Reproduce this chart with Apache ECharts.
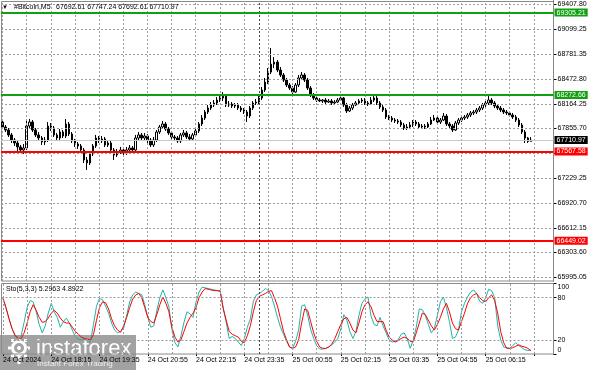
<!DOCTYPE html>
<html><head><meta charset="utf-8">
<script src="https://cdn.jsdelivr.net/npm/echarts@6/dist/echarts.min.js"></script>
<style>html,body{margin:0;padding:0;background:#fff}#c{width:591px;height:370px}</style>
</head><body><div id="c"></div>
<script>
// ---------- data ----------
const symbolName = '#Bitcoin,M5';
const headerValues = '67692.61 67747.24 67692.61 67710.97';
const stochTitle = 'Sto(5,3,3) 5.2963 4.8922';
const priceTicks = [69407.80, 69099.25, 68781.35, 68472.80, 68164.25, 67855.70, 67547.15, 67229.25, 66920.70, 66612.15, 66303.60, 65995.05];
const greenLevels = [69305.21, 68272.66];
const redLevels = [67567.58, 66449.02];
const lastPrice = 67710.97;
const timeLabels = ['24 Oct 2024', '24 Oct 18:15', '24 Oct 19:35', '24 Oct 20:55', '24 Oct 22:15', '24 Oct 23:35', '25 Oct 00:55', '25 Oct 02:15', '25 Oct 03:35', '25 Oct 04:55', '25 Oct 06:15'];
const stochTicks = [0, 20, 80, 100];
const stochLevels = [20, 80];
const daySeparatorBar = 85;
// [open, close, low, high]
const ohlc = [
[67936,67874,67849,67961],[67874,67836,67811,67899],[67836,67774,67749,67861],[67774,67711,67674,67799],[67711,67674,67636,67736],
[67674,67624,67573,67699],[67624,67586,67549,67649],[67586,67611,67536,67661],[67611,67886,67586,67961],[67886,67936,67861,67974],
[67936,67836,67811,67961],[67836,67774,67749,67861],[67774,67736,67699,67811],[67736,67686,67649,67761],[67686,67711,67649,67749],
[67711,67886,67686,67936],[67886,67861,67824,67924],[67861,67774,67749,67886],[67774,67736,67699,67799],[67736,67811,67711,67849],
[67811,67761,67736,67836],[67761,67911,67736,67974],[67911,67786,67761,67936],[67786,67699,67674,67811],[67699,67661,67624,67724],
[67661,67636,67599,67686],[67636,67586,67561,67661],[67586,67461,67423,67611],[67461,67423,67336,67499],[67423,67536,67398,67573],
[67536,67636,67511,67661],[67636,67736,67611,67774],[67736,67699,67674,67761],[67699,67724,67674,67761],[67724,67649,67624,67749],
[67649,67674,67624,67711],[67674,67586,67561,67699],[67586,67524,67461,67611],[67524,67561,67499,67599],[67561,67586,67536,67624],
[67586,67549,67511,67611],[67549,67586,67524,67624],[67586,67611,67561,67649],[67611,67586,67561,67636],[67586,67736,67573,67774],
[67736,67774,67711,67811],[67774,67736,67711,67799],[67736,67761,67699,67799],[67761,67711,67674,67786],[67711,67649,67624,67736],
[67649,67711,67624,67749],[67711,67811,67686,67836],[67811,67874,67786,67899],[67874,67911,67849,67949],[67911,67849,67824,67936],
[67849,67799,67774,67874],[67799,67749,67724,67824],[67749,67736,67699,67774],[67736,67699,67674,67761],[67699,67774,67674,67799],
[67774,67799,67749,67836],[67799,67749,67724,67824],[67749,67724,67699,67786],[67724,67774,67699,67799],[67774,67824,67749,67849],
[67824,67911,67799,67936],[67911,67986,67886,68024],[67986,68061,67961,68086],[68061,68111,68036,68149],[68111,68149,68086,68186],
[68149,68174,68124,68211],[68174,68211,68149,68249],[68211,68236,68186,68274],[68236,68261,68199,68312],[68261,68149,68124,68286],
[68149,68161,68124,68199],[68161,68136,68111,68186],[68136,68149,68111,68174],[68149,68111,68086,68174],[68111,68086,68061,68136],
[68086,68061,68036,68111],[68061,68011,67936,68086],[68011,68111,67986,68136],[68111,68174,68086,68199],[68174,68186,68149,68224],
[68186,68236,68161,68261],[68236,68336,68211,68374],[68336,68436,68311,68487],[68436,68561,68411,68611],[68561,68661,68536,68862],
[68661,68686,68611,68749],[68686,68586,68561,68711],[68586,68524,68499,68624],[68524,68461,68436,68549],[68461,68399,68374,68487],
[68399,68361,68336,68424],[68361,68311,68286,68386],[68311,68399,68299,68424],[68399,68487,68374,68524],[68487,68524,68461,68561],
[68524,68461,68436,68549],[68461,68361,68336,68487],[68361,68274,68249,68386],[68274,68236,68211,68299],[68236,68211,68186,68261],
[68211,68199,68186,68236],[68199,68211,68174,68224],[68211,68186,68161,68236],[68186,68199,68174,68224],[68199,68174,68149,68224],
[68174,68186,68161,68211],[68186,68211,68174,68236],[68211,68236,68199,68261],[68236,68149,68124,68249],[68149,68074,68049,68174],
[68074,68111,68061,68136],[68111,68149,68086,68174],[68149,68174,68136,68199],[68174,68199,68149,68224],[68199,68211,68174,68236],
[68211,68174,68149,68236],[68174,68161,68136,68199],[68161,68211,68149,68249],[68211,68236,68186,68261],[68236,68174,68149,68261],
[68174,68124,68099,68199],[68124,68086,68061,68149],[68086,67999,67974,68111],[67999,67986,67961,68024],[67986,67961,67936,68011],
[67961,67949,67924,67986],[67949,67936,67911,67974],[67936,67899,67874,67961],[67899,67861,67836,67924],[67861,67874,67836,67911],
[67874,67899,67849,67936],[67899,67936,67874,67961],[67936,67911,67886,67961],[67911,67874,67849,67936],[67874,67886,67849,67911],
[67886,67874,67849,67911],[67874,67911,67861,67936],[67911,67961,67899,67999],[67961,67986,67949,68024],[67986,67936,67911,68011],
[67936,67961,67911,67986],[67961,68011,67949,68049],[68011,67911,67886,68036],[67911,67886,67861,67936],[67886,67836,67811,67911],
[67836,67924,67824,67949],[67924,67961,67899,67986],[67961,67986,67936,68011],[67986,67999,67961,68024],[67999,68024,67974,68049],
[68024,68049,67999,68074],[68049,68061,68024,68086],[68061,68086,68036,68111],[68086,68111,68061,68136],[68111,68149,68086,68174],
[68149,68174,68124,68199],[68174,68211,68149,68261],[68211,68174,68149,68236],[68174,68136,68111,68199],[68136,68111,68086,68161],
[68111,68086,68061,68136],[68086,68061,68036,68111],[68061,68049,68024,68086],[68049,68024,67999,68074],[68024,67999,67974,68049],
[67999,67961,67936,68024],[67961,67899,67874,67986],[67899,67811,67786,67924],[67811,67736,67674,67836],[67736,67693,67674,67749],
[67692.61,67710.97,67692.61,67747.24]
];
const stochMain = [
79,65,50,36,27,20,26,45,66,76, 74,60,42,30,40,58,72,60,52,38,
46,51,44,34,24,21,20,21,19,17, 42,68,79,77,68,58,44,34,30,32,
37,55,74,84,88,86,84,70,52,38, 40,62,80,91,80,67,35,16,10,26,
45,60,57,52,74,88,95,94,93,92, 91,90,90,65,45,22,25,22,17,12,
22,38,50,75,84,86,89,93,90,82, 68,52,38,28,18,10,8,18,34,68,
70,55,35,22,12,7,7,8,10,13, 17,22,36,56,48,32,22,32,55,72,
78,81,54,42,40,52,40,30,20,17, 18,20,28,30,22,8,20,38,64,63,
55,42,30,36,55,74,81,66,46,22, 24,34,60,72,81,88,91,86,75,72,
80,92,90,80,40,20,10,9,8,12, 16,12,9,6,5,5.2963
];
const stochSignal = [
79,66,50,36,26,23,22,30,44,60, 70,62,52,45,46,51,58,62,58,51,
46,44,44,38,32,28,24,22,21,20, 28,48,66,74,73,64,50,40,34,31,
40,52,66,78,84,86,80,66,52,46, 44,56,70,81,72,60,38,24,17,20,
32,44,52,58,66,80,88,93,92,91, 90,90,89,65,48,32,28,26,24,18,
16,26,40,60,76,82,84,86,89,90, 80,68,50,32,20,10,8,10,20,44,
64,62,46,30,18,10,8,8,10,14, 22,32,42,50,52,44,34,30,44,60,
70,74,67,55,46,46,46,34,24,20, 17,19,22,24,22,18,17,30,44,58,
56,48,40,34,42,52,64,72,60,44, 36,34,46,58,72,80,84,86,80,76,
74,80,84,76,58,32,16,8,8,9, 11,13,11,10,8,4.8922
];

// ---------- chart ----------
const FONT = '"Liberation Sans", Arial, sans-serif';
const N = 183; // bar slots incl. right shift
const LABEL_EVERY = 16, GRID_EVERY = 8;
const cats = Array.from({length: N}, (_, i) => String(i));
const gridStyle = {color: '#9c9c9c', type: [2, 2], width: 1};
const vGrid = cats.filter((c, i) => i % GRID_EVERY === 0).map(c => ({xAxis: c, lineStyle: gridStyle}));
const sepLine = {xAxis: String(daySeparatorBar), lineStyle: {color: '#444', type: [2, 2], width: 1}};

function levelItem(v, color, width, bg) {
  return {yAxis: v, lineStyle: {color: color, width: width, type: 'solid'},
    label: {show: true, position: 'end', distance: 1, formatter: () => v.toFixed(2),
      color: '#fff', backgroundColor: bg, padding: [1, 2, 0, 2], fontSize: 7, fontFamily: FONT}};
}

function xAxisDef(gi, showLabels) {
  return {type: 'category', gridIndex: gi, data: cats, boundaryGap: true,
    axisLine: {show: false},
    axisTick: {show: showLabels, alignWithLabel: true, interval: i => i % LABEL_EVERY === 0, length: 2, lineStyle: {color: '#000'}},
    axisLabel: {show: showLabels, interval: i => i % LABEL_EVERY === 0, formatter: (v, i) => timeLabels[i / LABEL_EVERY] || '',
      align: 'left', fontSize: 7, fontFamily: FONT, color: '#000', margin: 3},
    splitLine: {show: false}};
}

const chart = echarts.init(document.getElementById('c'), null, {renderer: 'canvas'});
chart.setOption({
  animation: false,
  backgroundColor: '#fff',
  grid: [
    {left: 1, top: 1, width: 552.5, height: 280, show: false},
    {left: 1, top: 283.6, width: 552.5, height: 70.4, show: false}
  ],
  xAxis: [xAxisDef(0, false), xAxisDef(1, true)],
  yAxis: [
    {type: 'value', gridIndex: 0, position: 'right', min: 65947, max: 69450, scale: true,
      axisLine: {show: true, lineStyle: {color: '#000'}},
      axisTick: {show: true, customValues: priceTicks, length: 3, lineStyle: {color: '#000'}},
      axisLabel: {customValues: priceTicks, formatter: v => v.toFixed(2), fontSize: 7, fontFamily: FONT, color: '#000', margin: 4},
      splitLine: {show: false}},
    {type: 'value', gridIndex: 1, position: 'right', min: 0, max: 100,
      axisLine: {show: true, lineStyle: {color: '#000'}},
      axisTick: {show: true, customValues: stochTicks, length: 3, lineStyle: {color: '#000'}},
      axisLabel: {customValues: stochTicks, fontSize: 7, fontFamily: FONT, color: '#000', margin: 4,
        verticalAlignMinLabel: 'bottom', verticalAlignMaxLabel: 'top'},
      splitLine: {show: false}}
  ],
  series: [
    {type: 'candlestick', xAxisIndex: 0, yAxisIndex: 0, data: ohlc, z: 3, barWidth: 2,
      itemStyle: {color: '#fff', color0: '#000', borderColor: '#000', borderColor0: '#000', borderWidth: 1},
      markLine: {silent: true, symbol: 'none', animation: false, label: {show: false},
        data: priceTicks.map(v => ({yAxis: v, lineStyle: gridStyle})).concat(vGrid)
          .concat([sepLine, levelItem(lastPrice, '#c8c8c8', 1, '#000')])
          .concat(greenLevels.map(v => levelItem(v, '#12a012', 2, '#12a012')))
          .concat(redLevels.map(v => levelItem(v, '#ff0000', 2, '#ff0000')))}},
    {type: 'line', name: 'Main', xAxisIndex: 1, yAxisIndex: 1, data: stochMain, symbol: 'none', z: 3,
      lineStyle: {color: '#20b2aa', width: 1},
      markLine: {silent: true, symbol: 'none', animation: false, label: {show: false},
        data: stochLevels.map(v => ({yAxis: v, lineStyle: gridStyle})).concat(vGrid).concat([sepLine])}},
    {type: 'line', name: 'Signal', xAxisIndex: 1, yAxisIndex: 1, data: stochSignal, symbol: 'none', z: 4,
      lineStyle: {color: '#ff0000', width: 1}}
  ],
  graphic: [
    {type: 'rect', z: 1, silent: true, shape: {x: 1.5, y: 1.5, width: 552, height: 279.5}, style: {fill: null, stroke: '#8a8a8a', lineWidth: 1}},
    {type: 'rect', z: 1, silent: true, shape: {x: 1.5, y: 283.5, width: 552, height: 70.5}, style: {fill: null, stroke: '#8a8a8a', lineWidth: 1}},
    {type: 'text', x: 2, y: 7, z: 10, style: {text: '▼', fontSize: 6, fontFamily: FONT, fill: '#000', verticalAlign: 'middle'}},
    {type: 'text', x: 14, y: 7, z: 10, style: {text: symbolName, fontSize: 7, fontFamily: FONT, fill: '#000', verticalAlign: 'middle'}},
    {type: 'text', x: 56, y: 7, z: 10, style: {text: headerValues, fontSize: 7, fontFamily: FONT, fill: '#000', verticalAlign: 'middle'}},
    {type: 'text', x: 6, y: 289, z: 10, style: {text: stochTitle, fontSize: 7, fontFamily: FONT, fill: '#000', verticalAlign: 'middle'}},
    {type: 'group', z: 20, children: [
      {type: 'rect', shape: {x: 0, y: 335, width: 136, height: 35}, style: {fill: 'rgba(105,105,105,0.62)'}},
      {type: 'circle', shape: {cx: 19, cy: 348, r: 6.5}, style: {fill: 'none', stroke: '#fff', lineWidth: 3}},
      {type: 'circle', shape: {cx: 19, cy: 348, r: 2}, style: {fill: '#fff'}},
      {type: 'rect', shape: {x: 17.5, y: 354, width: 3, height: 10}, style: {fill: '#fff'}},
      {type: 'rect', shape: {x: 17.5, y: 337, width: 3, height: 3}, style: {fill: '#fff'}},
      {type: 'rect', shape: {x: 8, y: 346.5, width: 3, height: 3}, style: {fill: '#fff'}},
      {type: 'rect', shape: {x: 27, y: 346.5, width: 3, height: 3}, style: {fill: '#fff'}},
      {type: 'rect', shape: {x: 11, y: 339, width: 3, height: 3}, style: {fill: '#fff'}},
      {type: 'rect', shape: {x: 24, y: 339, width: 3, height: 3}, style: {fill: '#fff'}},
      {type: 'rect', shape: {x: 11, y: 354, width: 3, height: 3}, style: {fill: '#fff'}},
      {type: 'rect', shape: {x: 24, y: 354, width: 3, height: 3}, style: {fill: '#fff'}},
      {type: 'text', x: 36, y: 349, style: {text: 'instaforex', fontSize: 22, fontFamily: FONT, fill: '#fff', verticalAlign: 'middle'}},
      {type: 'text', x: 37, y: 364, style: {text: 'Instant Forex Trading', fontSize: 8, fontFamily: FONT, fill: '#eeeeee', verticalAlign: 'middle'}}
    ]}
  ]
});
</script>
</body></html>
